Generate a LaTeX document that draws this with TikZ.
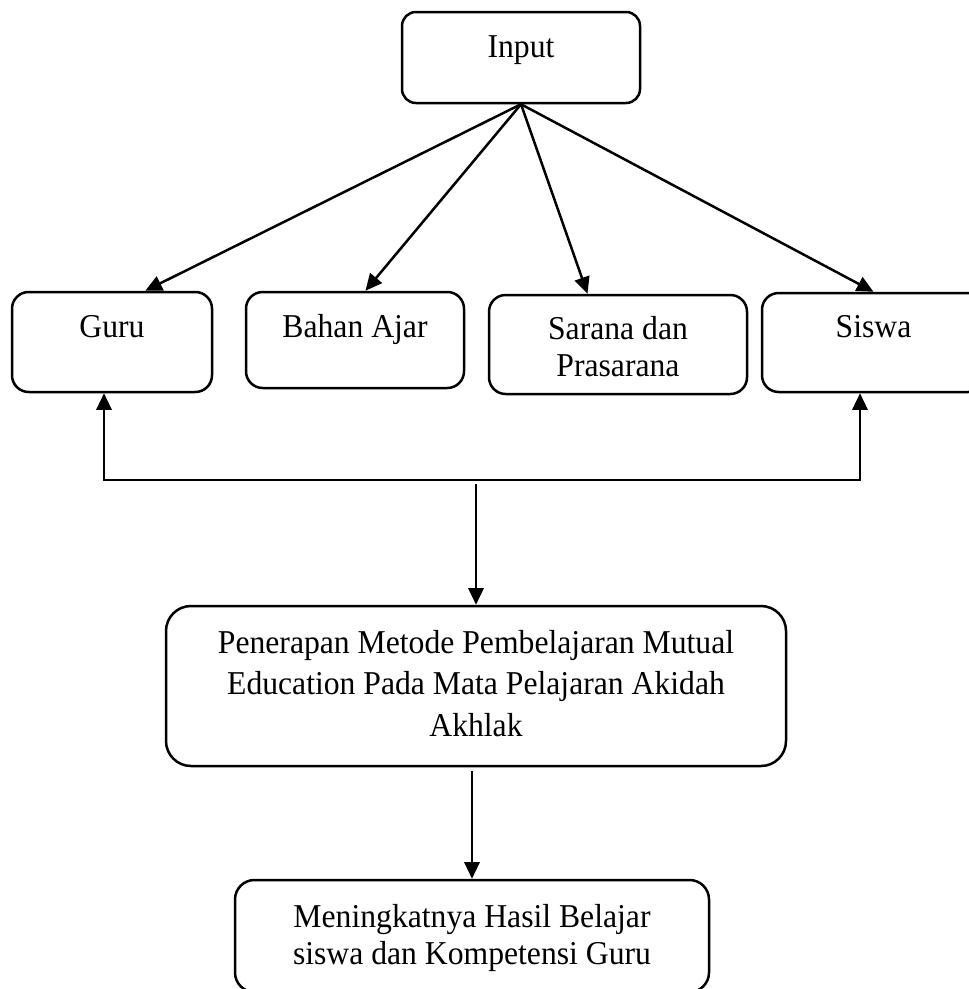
\documentclass[tikz,border=0pt]{standalone}
\usepackage{fontspec}
\setmainfont{Liberation Serif}[FakeStretch=0.95]
\usetikzlibrary{arrows.meta}

\begin{document}
\begin{tikzpicture}[x=0.36pt, y=-0.36pt, >={Triangle[length=6pt, width=5.5pt]},
  block/.style={draw, line width=0.9pt, rounded corners=5pt, inner sep=0pt, align=flush center,
    font=\fontsize{12pt}{13.5pt}\selectfont},
  link/.style={->, line width=0.9pt}]
\useasboundingbox (0,0) rectangle (968,989);

% Input
\node [block, text width=85.68pt, text height=16.2pt, text depth=16.56pt] (input) at (521,57.5) {Input};

% Components
\node [block, rounded corners=6pt, text width=72pt, text height=16.2pt, text depth=19.8pt] (guru) at (112,342) {Guru};
\node [block, rounded corners=6pt, text width=78.48pt, text height=16.2pt, text depth=18.36pt] (bahan) at (355,340) {Bahan Ajar};
\node [block, rounded corners=6pt, text width=92.88pt, text height=15.84pt, text depth=19.8pt] (sarana) at (618,344.5) {Sarana dan\\Prasarana};
\node [block, rounded corners=6pt, text width=80.28pt, text height=15.84pt, text depth=19.8pt] (siswa) at (873.5,342.5) {Siswa};

% Process
\node [block, rounded corners=9pt, font=\fontsize{12pt}{15.1pt}\selectfont, text width=223.2pt, text height=16.92pt, text depth=40.68pt] (metode) at (476,686)
  {Penerapan Metode Pembelajaran Mutual\\Education Pada Mata Pelajaran Akidah\\Akhlak};

% Output
\node [block, rounded corners=7pt, text width=170.64pt, text height=16.92pt, text depth=23.4pt] (hasil) at (472,936)
  {Meningkatnya Hasil Belajar\\siswa dan Kompetensi Guru};

% Connections
\foreach \target/\ang in {guru/57, bahan/78, sarana/121, siswa/90}
  \draw [link] (input.south) -- (\target.\ang);

\coordinate (feedL) at (104,480);
\coordinate (feedR) at (860,480);
\draw [link, <->] (feedL |- guru.south) -- (feedL) -- (feedR) -- (feedR |- siswa.south);

\coordinate (merge) at (476,484);
\draw [link] (merge) -- (metode.north);
\draw [link, shorten <=1.5pt] (metode.south -| hasil.north) -- (hasil.north);
\end{tikzpicture}
\end{document}
